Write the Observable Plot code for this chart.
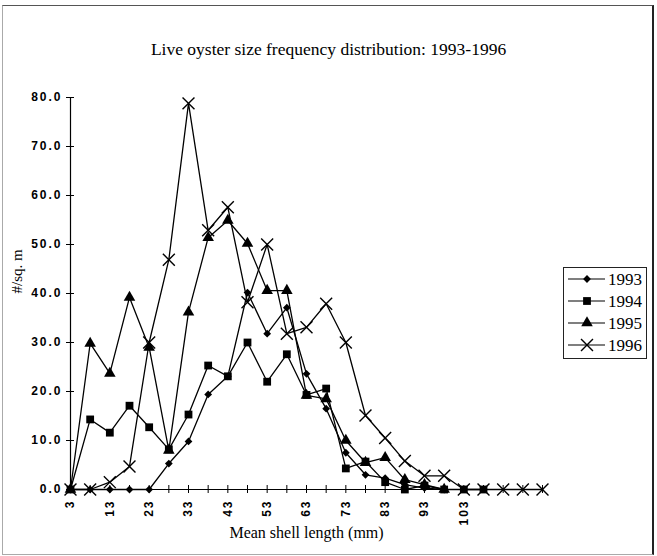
<!DOCTYPE html>
<html><head><meta charset="utf-8">
<script src="https://cdn.jsdelivr.net/npm/d3@7"></script>
<script src="https://cdn.jsdelivr.net/npm/@observablehq/plot@0.6"></script>
<style>
body{margin:0;background:#fff;}
#wrap{position:relative;width:657px;height:556px;overflow:hidden;background:#fff;}
#wrap > svg{position:absolute;left:0;top:0;}
#frame{position:absolute;left:2px;top:5px;width:649px;height:548px;border-top:1px solid #555;border-right:2px solid #222;border-left:1px solid #aaa;border-bottom:1px solid #aaa;pointer-events:none;}
g[aria-label="y-axis tick label"] text, g[aria-label="x-axis tick label"] text {letter-spacing:2px;}
#legend{position:absolute;left:563px;top:267px;width:82px;height:90px;border:1px solid #222;background:#fff;}
#legend svg{display:block;}
</style></head>
<body><div id="wrap"></div>
<script>
// Categories: mean shell length (mm)
const lengths = [3,8,13,18,23,28,33,38,43,48,53,58,63,68,73,78,83,88,93,98,103,108,113,118,123];
const years = ["1993","1994","1995","1996"];
// #/sq. m per year
const v1993 = [0,0,0,0,0,5.3,9.8,19.4,23.1,40.2,31.8,37.1,23.6,16.5,7.5,3.0,2.3,1.0,0.3,0];
const v1994 = [0,14.3,11.6,17.1,12.7,8.2,15.3,25.3,23.1,30.0,22.0,27.6,19.3,20.6,4.3,5.7,1.5,0,0.8,0,0,0];
const v1995 = [0,29.8,23.7,39.2,29.0,8.0,36.2,51.4,54.9,50.2,40.6,40.6,19.2,18.5,10.0,5.5,6.5,2.0,1.0,0];
const v1996 = [0,0,1.5,4.7,30.0,46.9,78.8,52.9,57.6,38.2,50.0,31.8,33.1,37.9,30.0,15.1,10.5,5.8,2.8,2.8,0,0,0,0,0];
const yTicks = [0,10,20,30,40,50,60,70,80];
const xLabels = [3,13,23,33,43,53,63,73,83,93,103];
const title = "Live oyster size frequency distribution: 1993-1996";
const xTitle = "Mean shell length (mm)";
const yTitle = "#/sq. m";

const series = [v1993, v1994, v1995, v1996];
const rows = [];
series.forEach((vals, k) => vals.forEach((v, i) => rows.push({year: years[k], len: lengths[i], val: v})));

const diamondSym = {draw(ctx, size){ const r = Math.sqrt(size/2); ctx.moveTo(0,-r); ctx.lineTo(r,0); ctx.lineTo(0,r); ctx.lineTo(-r,0); ctx.closePath(); }};
const symStyle = {
  "1993": {symbol: diamondSym, r: 3.1, fill: "black", stroke: "none"},
  "1994": {symbol: "square", r: 4.4, fill: "black", stroke: "none"},
  "1995": {symbol: "triangle", r: 4.3, fill: "black", stroke: "none"},
  "1996": {symbol: "times", r: 5.5, fill: "none", stroke: "black", strokeWidth: 1.4}
};

const serif = "Liberation Serif, Times New Roman, serif";
const sans = "Liberation Sans, Arial, sans-serif";

const marks = [
  Plot.ruleY([0], {stroke: "black", strokeWidth: 1.2}),
  Plot.ruleX([3], {stroke: "black", strokeWidth: 1.2}),
  Plot.ruleX(lengths, {x: d => d, y1: 0, y2: 0, insetTop: -4, insetBottom: -4, stroke: "black", strokeWidth: 1}),
  Plot.ruleY(yTicks, {y: d => d, x1: 3, x2: 3, insetLeft: -4, insetRight: -4, stroke: "black", strokeWidth: 1}),
  Plot.axisY({ticks: yTicks, tickSize: 0, tickPadding: 8, tickFormat: d3.format(".1f"), label: null, fontFamily: sans, fontSize: 12, fontWeight: "bold"}),
  Plot.axisX({ticks: xLabels, tickSize: 0, tickPadding: 10, tickRotate: -90, tickFormat: d => String(d), label: null, fontFamily: sans, fontSize: 12, fontWeight: "bold"}),
  Plot.text([title], {text: d => d, frameAnchor: "top", dx: 22, dy: -55, fontFamily: serif, fontSize: 17.5, fill: "black"}),
  Plot.text([xTitle], {text: d => d, frameAnchor: "bottom", dy: 48, fontFamily: serif, fontSize: 16, fill: "black"}),
  Plot.text([yTitle], {text: d => d, frameAnchor: "left", dx: -53, rotate: -90, fontFamily: serif, fontSize: 15, fill: "black"})
];
years.forEach(y => {
  const data = rows.filter(r => r.year === y);
  marks.push(Plot.line(data, {x: "len", y: "val", stroke: "black", strokeWidth: 1.3}));
  marks.push(Plot.dot(data, {x: "len", y: "val", ...symStyle[y]}));
});

const chart = Plot.plot({
  width: 657, height: 556,
  marginLeft: 70, marginRight: 115, marginTop: 97, marginBottom: 67,
  x: {domain: [3, 123]},
  y: {domain: [0, 80]},
  style: {background: "white", color: "black", overflow: "visible"},
  marks
});
const wrap = document.getElementById("wrap");
wrap.appendChild(chart);
const frame = document.createElement("div"); frame.id = "frame"; wrap.appendChild(frame);

// Legend
const leg = d3.select(wrap).append("div").attr("id", "legend");
const lsvg = leg.append("svg").attr("width", 82).attr("height", 90);
const legSyms = {
  "1993": {type: diamondSym, size: Math.PI*3.1*3.1, fill: "black", stroke: "none"},
  "1994": {type: d3.symbolSquare, size: Math.PI*4.4*4.4, fill: "black", stroke: "none"},
  "1995": {type: d3.symbolTriangle, size: Math.PI*4.3*4.3, fill: "black", stroke: "none"},
  "1996": {type: d3.symbolTimes, size: Math.PI*5.5*5.5, fill: "none", stroke: "black"}
};
years.forEach((y, i) => {
  const g = lsvg.append("g").attr("transform", `translate(0,${11 + i*22})`);
  g.append("line").attr("x1", 4).attr("x2", 41).attr("stroke", "black").attr("stroke-width", 1.2);
  const s = legSyms[y];
  g.append("path").attr("transform", "translate(23,0)").attr("d", d3.symbol(s.type, s.size)())
    .attr("fill", s.fill).attr("stroke", s.stroke).attr("stroke-width", 1.4);
  g.append("text").attr("x", 44).attr("dy", "0.35em").text(y)
    .style("font-family", serif).style("font-size", "17px").attr("fill", "black");
});
</script>
</body></html>
